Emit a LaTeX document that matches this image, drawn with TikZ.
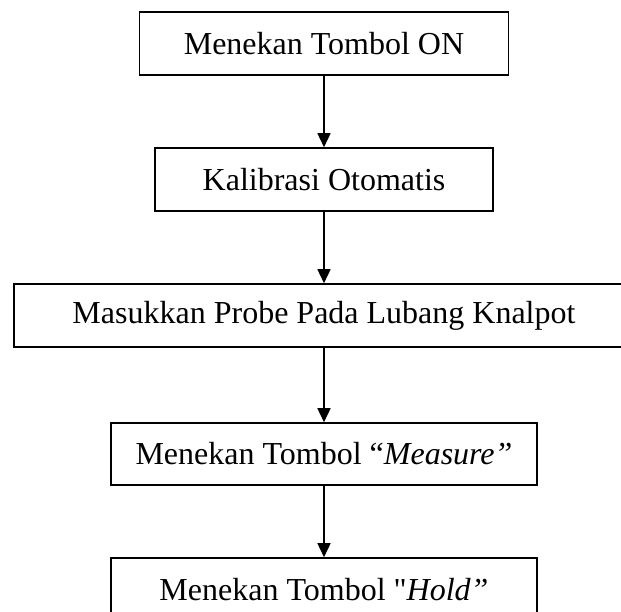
\documentclass[tikz,border=0pt]{standalone}
\usepackage{fontspec}
\setmainfont{Liberation Serif}
\newfontfamily\nomap{Liberation Serif}[Ligatures=TeXOff]
\usetikzlibrary{arrows.meta}
\begin{document}
\begin{tikzpicture}[x=1pt,y=-1pt,
  stepbox/.style={draw=black,line width=1.6pt,rectangle,inner sep=0pt,
    font=\fontsize{32}{36}\selectfont,minimum height=63pt},
  flow/.style={line width=1.6pt,-{Triangle[width=13pt,length=14pt]}}]
\useasboundingbox (0,0) rectangle (621,611);
\node[stepbox,minimum width=369pt] (b1) at (324,43.5) {Menekan Tombol ON};
\node[stepbox,minimum width=338pt] (b2) at (324,179.5) {Kalibrasi Otomatis};
\node[stepbox,minimum width=620pt] (b3) at (324,315.5) {Masukkan Probe Pada Lubang Knalpot};
\node[stepbox,minimum width=426pt,minimum height=62pt] (b4) at (324,454) {Menekan Tombol “\textit{Measure”}};
\node[stepbox,minimum width=426pt] (b5) at (324,589.5) {Menekan Tombol {\nomap"}\textit{Hold”}};
\draw[flow] (b1.south) -- (b2.north);
\draw[flow] (b2.south) -- (b3.north);
\draw[flow] (b3.south) -- (b4.north);
\draw[flow] (b4.south) -- (b5.north);
\end{tikzpicture}
\end{document}
